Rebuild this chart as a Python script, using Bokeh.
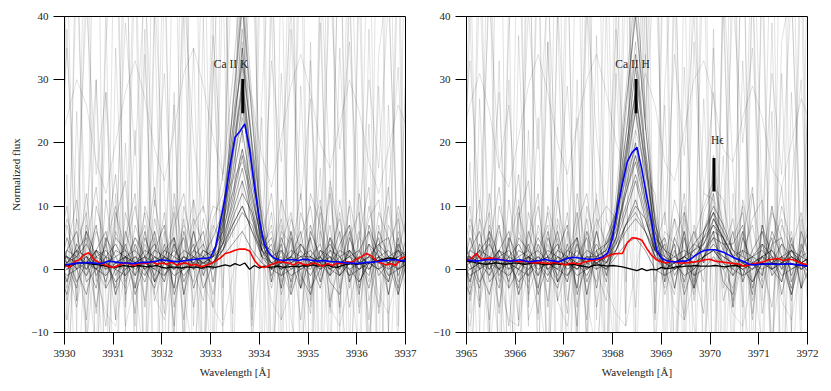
import numpy as np
from bokeh.plotting import figure
from bokeh.layouts import row
from bokeh.models import Range1d, FixedTicker
from bokeh.core.properties import value
from bokeh.embed import file_html
from bokeh.resources import INLINE

# ---------------- data ----------------
# wavelength sampling of the individual (grey) spectra
GRID_L = np.round(3929.85 + 0.2 * np.arange(37), 2)
GRID_R = np.round(3964.87 + 0.2 * np.arange(37), 2)
# sampling of the highlighted spectra
HX_L = np.round(3930.0 + 0.1 * np.arange(71), 2)
HX_R = np.round(3965.0 + 0.1 * np.arange(71), 2)

core_L = [
    [1, 2, 0, 1, 3, 1, 0, 2, 1, -1, 2, 1, 0, 2, 1,  1, 2, 4, 9, 14, 8, 3, 1, 2,  0, 1, 2, 1, -1, 1, 2, 0, 1, 3, 1, 0, 2],
    [0, 1, 3, 2, 0, -1, 1, 2, 3, 1, 0, 2, 1, -1, 1,  2, 1, 3, 7, 10, 6, 2, 0, 1,  2, 1, 0, 3, 2, 1, -1, 0, 2, 1, 2, 3, 1],
    [2, 0, 1, -1, 2, 3, 1, 0, 1, 2, -2, 1, 3, 1, 0,  1, 0, 5, 14, 22, 12, 4, 1, 0,  1, 3, 1, 0, 2, -1, 1, 2, 1, 0, 1, 2, 0],
    [1, 3, 2, 1, 0, 2, 4, 1, 2, 0, 1, 3, 2, 1, 3,  2, 3, 6, 18, 30, 17, 5, 2, 1,  3, 2, 1, 2, 4, 1, 2, 3, 0, 2, 1, 3, 2],
    [-1, 0, 1, 2, 0, 1, -2, 0, 2, 1, 0, -1, 1, 0, 2,  0, 1, 2, 4, 6, 3, 1, 0, -1,  0, 1, -1, 2, 0, 1, 0, -2, 1, 0, 2, 0, 1],
    [2, 1, 3, 0, 2, 1, 2, 3, 1, 2, 4, 1, 0, 2, 1,  3, 2, 8, 25, 42, 24, 6, 2, 3,  1, 2, 3, 1, 2, 0, 3, 1, 2, 4, 2, 1, 3],
    [0, 2, 1, 1, 3, 0, 1, 1, -1, 2, 1, 2, 0, 1, 2,  1, 1, 3, 6, 9, 7, 2, 1, 1,  2, 0, 1, 1, 3, 2, 0, 1, 2, 1, 0, 1, 2],
    [3, 1, 2, 4, 1, 0, 3, 2, 1, 3, 2, 0, 1, 3, 2,  1, 2, 7, 20, 35, 19, 4, 3, 1,  2, 4, 2, 1, 0, 2, 3, 1, 4, 2, 1, 2, 3],
    [1, -1, 0, 2, 1, 1, 0, -1, 1, 0, 2, 1, -1, 0, 1,  0, 2, 3, 8, 12, 9, 3, 0, 1,  -1, 0, 1, 2, 0, -1, 1, 0, 1, 2, -1, 0, 1],
    [2, 2, 1, 0, 3, 2, 1, 2, 0, 1, 3, 2, 1, 2, 0,  2, 1, 4, 11, 18, 10, 3, 2, 0,  1, 2, 2, 0, 1, 3, 2, 1, 0, 2, 3, 1, 2],
]
core2_L = [
    [3, -2, 4, 1, -3, 5, 2, -1, 4, 0, -3, 3, 5, -2, 2,  4, 0, 6, 12, 19, 11, 5, -1, 3,  -2, 4, 1, -3, 5, 2, -1, 3, 6, 0, -2, 4, 1],
    [-2, 5, 0, -4, 3, 6, -1, 2, -3, 5, 1, -2, 4, 0, 6,  -1, 3, 5, 10, 16, 9, 2, 4, -3,  5, -1, -4, 3, 1, 6, -2, 2, -3, 4, 5, -1, 3],
    [4, 1, -3, 6, 2, -2, 5, 3, -4, 1, 6, -1, 2, 5, -3,  2, 5, 9, 22, 33, 20, 8, -2, 5,  1, -3, 6, 2, -1, 4, 7, -2, 1, 5, -4, 3, 0],
    [0, -4, 3, 5, -1, 2, -3, 6, 1, -2, 3, 7, -4, 1, 4,  -3, 1, 4, 7, 10, 6, 3, 1, 0,  6, -3, 2, 4, -2, -4, 5, 1, -1, 6, 2, -3, 4],
    [5, 2, -2, 1, 7, -3, 0, 4, -1, 6, -2, 2, 5, -4, 3,  6, -2, 7, 15, 26, 14, 3, 5, -1,  2, 6, -3, 0, 5, -1, 3, -4, 7, 2, -2, 5, -3],
    [-3, 3, 6, -2, 0, 4, -4, 1, 5, 2, -1, 4, -3, 6, 0,  3, 2, 8, 17, 29, 16, 6, 0, 4,  -4, 1, 5, -2, 3, 0, 6, -3, 4, -1, 1, -4, 2],
]
med_L = [
    [5, -3, 8, 2, -6, 4, 10, -2, 3, 7, -5, 1, 9, -4, 6,  0, 8, 12, 20, 28, 15, 6, -3, 4,  9, -2, 5, 11, -6, 3, 7, -1, 10, 2, -4, 6, 1],
    [-4, 7, 0, 12, -2, 5, -8, 9, 3, -5, 11, 2, -3, 8, -6,  4, 10, 9, 16, 24, 18, 3, 7, -4,  2, 12, -5, 6, 0, 9, -3, 5, 13, -7, 4, 8, -2],
    [9, 1, -6, 4, 13, -1, 6, 2, -7, 10, 4, -2, 7, 12, 0,  -5, 6, 15, 30, 48, 27, 10, 2, 8,  -3, 5, 10, -1, 7, -6, 11, 3, -2, 9, 5, -4, 3],
    [2, 10, -5, 7, 1, -9, 8, 14, -3, 4, 0, 9, -6, 3, 11,  2, -4, 8, 12, 19, 13, 9, -2, 6,  4, -8, 7, 1, 12, -3, 5, 9, -5, 2, 10, 0, 6],
    [-7, 3, 11, -1, 6, 2, -4, 5, 12, -6, 8, 1, 4, -8, 7,  10, 3, 6, 22, 38, 20, 1, 9, -3,  6, 0, -7, 10, 3, 8, -2, 12, 1, -6, 7, 3, 9],
    [6, -2, 4, 9, -7, 11, 0, -3, 7, 2, 13, -5, 5, 1, -2,  8, 0, 11, 14, 17, 12, 4, 6, 0,  -4, 9, 3, -2, 14, 5, -6, 2, 8, 11, -1, 4, -5],
    [0, 8, 3, -8, 10, 4, 15, -4, 1, 9, -2, 6, -9, 10, 3,  -1, 7, 4, 26, 44, 25, 8, 0, 11,  5, -3, 12, 7, -5, 1, 10, -7, 6, 3, 13, -2, 2],
    [11, -5, 2, 6, 0, -3, 9, 3, 10, -1, 5, -7, 12, 2, 8,  4, -6, 10, 18, 27, 16, 5, 12, -2,  8, 3, -4, 9, -1, 11, 2, 6, -8, 7, 0, 10, 4],
]
wild_L = [
    [45, -20, 60, -15, 30, -25, 70, -10, 50, -30, 40, -18, 65, -12, 35, -22, 55, -8, 80, 20, 75, -14, 42, -26, 58, -16, 33, -28, 62, -11, 48, -24, 38, -19, 72, -9, 44],
    [-15, 38, -5, 52, -22, 28, -8, 66, -18, 34, -4, 57, -26, 41, -9, 63, -13, 47, -21, 36, -6, 68, -17, 31, -3, 54, -25, 39, -7, 61, -14, 45, -20, 29, -10, 59, -23],
    [12, 35, 8, 42, 15, 28, 5, 39, 18, 46, 10, 31, 3, 44, 20, 9, 37, 14, 48, 25, 50, 6, 33, 17, 41, 11, 27, 4, 45, 19, 36, 7, 30, 16, 43, 2, 38],
    [-6, -18, 8, -12, 3, -22, 12, -9, -2, -16, 6, -25, 10, -4, -14, 2, -19, 9, -7, 14, -11, 4, -21, 11, -8, -15, 5, -24, 13, -3, -17, 7, -10, 1, -20, 9, -13],
    [70, -30, 25, -12, 90, -40, 35, -5, 60, -22, 80, -35, 28, -15, 95, -28, 40, -10, 100, 30, 85, -33, 52, -8, 74, -27, 36, -19, 88, -38, 46, -6, 66, -31, 26, -14, 92],
    [18, 24, 30, 26, 17, 12, 20, 28, 33, 27, 19, 14, 22, 31, 35, 29, 21, 15, 24, 32, 27, 18, 13, 21, 29, 34, 28, 20, 16, 23, 30, 25, 17, 12, 19, 26, 22],
    [-3, -8, 2, 6, -1, -7, -9, 0, 5, 3, -4, -8, 1, 7, 4, -2, -6, -9, -1, 6, 8, 2, -5, -8, -3, 4, 7, 1, -6, -9, -2, 5, 3, -4, -7, 0, 6],
    [-35, 50, -10, 75, -28, 42, -45, 65, -20, 55, -38, 48, -15, 85, -30, 40, -25, 70, -12, 90, -18, 60, -40, 52, -22, 78, -33, 45, -16, 68, -42, 58, -27, 80, -11, 50, -36],
    [25, -8, 48, 3, -14, 36, 58, -6, 22, -19, 44, 12, -11, 53, 7, -17, 30, 61, 5, 45, -9, 27, 56, -13, 38, 2, -20, 49, 15, -7, 63, 9, -16, 34, 47, -4, 21],
    [-12, 15, -24, 8, 30, -5, -18, 20, -9, 38, -21, 4, 26, -14, 11, -27, 33, -3, 19, 50, -8, 24, -16, 7, -23, 29, -6, 16, -19, 35, -1, -13, 23, -25, 12, 32, -7],
]

core_R = [
    [1, 2, 0, 1, 3, 1, 0, 2, 1, -1, 2, 1, 0, 2,  1, 2, 4, 9, 14, 8, 3, 1, 2,  1, 0, 2, 4, 2, 1, 0,  1, 2, 0, 1, 3, 1, 0],
    [0, 1, 3, 2, 0, -1, 1, 2, 3, 1, 0, 2, 1, -1,  2, 1, 3, 7, 11, 6, 2, 0, 1,  2, 1, 2, 3, 1, 0, -1,  0, 2, 1, 2, 3, 1, 2],
    [2, 0, 1, -1, 2, 3, 1, 0, 1, 2, -2, 1, 3, 1,  0, 1, 5, 13, 20, 11, 4, 1, 0,  1, 3, 4, 7, 5, 2, 1,  2, 1, 0, 1, 2, 0, 1],
    [1, 3, 2, 1, 0, 2, 4, 1, 2, 0, 1, 3, 2, 1,  3, 4, 8, 19, 28, 17, 6, 2, 1,  2, 3, 5, 9, 6, 3, 2,  1, 2, 3, 0, 2, 1, 2],
    [-1, 0, 1, 2, 0, 1, -2, 0, 2, 1, 0, -1, 1, 0,  1, 0, 2, 4, 5, 3, 0, -1, 0,  1, -1, 0, 2, 0, 1, 0,  -2, 1, 0, 2, 0, 1, -1],
    [2, 1, 3, 0, 2, 1, 2, 3, 1, 2, 4, 1, 0, 2,  2, 3, 9, 26, 40, 23, 7, 3, 2,  3, 2, 4, 8, 5, 2, 3,  2, 4, 2, 1, 3, 2, 1],
    [0, 2, 1, 1, 3, 0, 1, 1, -1, 2, 1, 2, 0, 1,  1, 2, 3, 6, 8, 6, 2, 1, 1,  2, 1, 2, 3, 2, 1, 0,  1, 0, 1, 2, 1, 0, 1],
    [3, 1, 2, 4, 1, 0, 3, 2, 1, 3, 2, 0, 1, 3,  2, 3, 7, 18, 32, 18, 5, 3, 1,  2, 4, 6, 10, 7, 3, 1,  2, 3, 1, 4, 2, 1, 2],
    [1, -1, 0, 2, 1, 1, 0, -1, 1, 0, 2, 1, -1, 0,  1, 0, 3, 7, 10, 8, 3, 0, 1,  -1, 0, 2, 3, 1, -1, 1,  0, 1, 2, -1, 0, 1, 0],
    [2, 2, 1, 0, 3, 2, 1, 2, 0, 1, 3, 2, 1, 2,  1, 2, 5, 12, 17, 10, 3, 2, 0,  1, 2, 3, 5, 4, 2, 1,  0, 2, 3, 1, 2, 1, 2],
]
core2_R = [
    [3, -2, 4, 1, -3, 5, 2, -1, 4, 0, -3, 3, 5, -2,  2, 4, 6, 12, 18, 11, 5, -1, 3,  -2, 4, 3, 6, 5, 2, -1,  3, 6, 0, -2, 4, 1, -3],
    [-2, 5, 0, -4, 3, 6, -1, 2, -3, 5, 1, -2, 4, 0,  6, -1, 5, 10, 15, 9, 2, 4, -3,  5, -1, 2, 5, 1, 6, -2,  2, -3, 4, 5, -1, 3, 0],
    [4, 1, -3, 6, 2, -2, 5, 3, -4, 1, 6, -1, 2, 5,  -3, 5, 9, 21, 34, 19, 8, -2, 5,  1, -3, 6, 9, 4, 4, 7,  -2, 1, 5, -4, 3, 0, 2],
    [0, -4, 3, 5, -1, 2, -3, 6, 1, -2, 3, 7, -4, 1,  4, 1, 4, 7, 9, 6, 3, 1, 0,  6, -3, 2, 6, -2, -4, 5,  1, -1, 6, 2, -3, 4, 0],
    [5, 2, -2, 1, 7, -3, 0, 4, -1, 6, -2, 2, 5, -4,  3, -2, 7, 15, 25, 14, 3, 5, -1,  2, 6, 1, 8, 5, -1, 3,  -4, 7, 2, -2, 5, -3, 1],
    [-3, 3, 6, -2, 0, 4, -4, 1, 5, 2, -1, 4, -3, 6,  0, 2, 8, 17, 28, 16, 6, 0, 4,  -4, 1, 5, 7, 3, 0, 6,  -3, 4, -1, 1, -4, 2, 3],
]
med_R = [
    [5, -3, 8, 2, -6, 4, 10, -2, 3, 7, -5, 1, 9, -4,  6, 0, 9, 14, 22, 16, 4, -3, 5,  9, -2, 6, 12, 4, -5, 3,  7, -1, 10, 2, -4, 6, 1],
    [-4, 7, 0, 12, -2, 5, -8, 9, 3, -5, 11, 2, -3, 8,  -6, 4, 10, 18, 26, 17, 8, -4, 2,  12, -5, 6, 9, 0, -3, 5,  13, -7, 4, 8, -2, 3, 9],
    [9, 1, -6, 4, 13, -1, 6, 2, -7, 10, 4, -2, 7, 12,  0, -5, 12, 28, 45, 26, 9, 2, 8,  -3, 5, 10, 14, 7, -6, 11,  3, -2, 9, 5, -4, 3, 7],
    [2, 10, -5, 7, 1, -9, 8, 14, -3, 4, 0, 9, -6, 3,  11, 2, 6, 13, 18, 12, -2, 6, 4,  -8, 7, 1, 12, -3, 5, 9,  -5, 2, 10, 0, 6, -3, 4],
    [-7, 3, 11, -1, 6, 2, -4, 5, 12, -6, 8, 1, 4, -8,  7, 10, 8, 21, 36, 19, 3, 9, -3,  6, 0, -7, 16, 3, 8, -2,  12, 1, -6, 7, 3, 9, -1],
    [6, -2, 4, 9, -7, 11, 0, -3, 7, 2, 13, -5, 5, 1,  -2, 8, 4, 15, 19, 13, 6, 0, -4,  9, 3, -2, 18, 5, -6, 2,  8, 11, -1, 4, -5, 6, 2],
    [0, 8, 3, -8, 10, 4, 15, -4, 1, 9, -2, 6, -9, 10,  3, -1, 9, 24, 42, 23, 8, 0, 11,  5, -3, 12, 11, -5, 1, 10,  -7, 6, 3, 13, -2, 2, 8],
    [11, -5, 2, 6, 0, -3, 9, 3, 10, -1, 5, -7, 12, 2,  8, 4, 7, 17, 25, 15, 12, -2, 8,  3, -4, 9, 13, 11, 2, 6,  -8, 7, 0, 10, 4, -3, 5],
]
wild_R = [
    [48, -18, 62, -12, 33, -24, 68, -9, 52, -28, 41, -16, 63, -13, 37, -21, 57, -7, 78, 22, 73, -15, 44, -25, 56, -17, 35, -27, 60, -10, 47, -23, 39, -20, 70, -8, 45],
    [-14, 40, -6, 50, -20, 30, -9, 64, -17, 36, -5, 55, -24, 43, -8, 61, -12, 49, -22, 34, -7, 66, -18, 32, -2, 52, -26, 41, -6, 59, -15, 46, -19, 31, -11, 57, -21],
    [14, 33, 9, 44, 16, 26, 6, 41, 19, 45, 11, 29, 4, 42, 21, 8, 38, 13, 47, 24, 49, 7, 34, 18, 40, 12, 28, 5, 43, 20, 35, 8, 31, 15, 44, 3, 37],
    [-7, -17, 9, -13, 2, -21, 11, -8, -3, -15, 7, -24, 9, -5, -13, 3, -18, 10, -6, 13, -12, 5, -20, 10, -9, -14, 6, -23, 12, -4, -16, 8, -11, 2, -19, 8, -12],
    [72, -28, 27, -11, 88, -38, 37, -6, 58, -21, 82, -33, 30, -14, 93, -26, 42, -9, 98, 32, 83, -31, 54, -7, 72, -25, 38, -18, 86, -36, 48, -5, 64, -29, 28, -13, 90],
    [20, 26, 31, 25, 16, 13, 21, 29, 34, 28, 20, 15, 23, 30, 34, 28, 20, 16, 25, 31, 26, 17, 14, 22, 30, 33, 27, 19, 17, 24, 29, 24, 16, 13, 20, 27, 23],
    [-4, -9, 1, 5, -2, -8, -9, 1, 6, 2, -5, -9, 2, 6, 3, -3, -7, -9, 0, 7, 7, 1, -6, -8, -2, 5, 6, 0, -7, -9, -1, 4, 2, -5, -8, 1, 5],
    [-33, 52, -11, 73, -27, 44, -43, 67, -19, 53, -37, 50, -14, 83, -29, 42, -24, 72, -11, 88, -17, 62, -39, 50, -21, 76, -32, 47, -15, 66, -41, 56, -26, 78, -10, 48, -35],
    [27, -7, 46, 4, -13, 38, 56, -5, 24, -18, 42, 13, -10, 51, 8, -16, 32, 59, 6, 43, -8, 29, 54, -12, 36, 3, -19, 47, 16, -6, 61, 10, -15, 36, 45, -3, 23],
    [-11, 17, -23, 9, 28, -4, -17, 22, -8, 36, -20, 5, 24, -13, 12, -26, 31, -2, 21, 48, -7, 26, -15, 8, -22, 27, -5, 18, -18, 33, 0, -12, 25, -24, 13, 30, -6],
]

blue_L = [0.7, 0.8, 0.9, 1.0, 1.0, 1.1, 1.0, 0.9, 1.0, 1.3,
          1.2, 1.1, 1.0, 1.0, 0.9, 1.0, 1.1, 1.1, 1.2, 1.3,
          1.5, 1.4, 1.3, 1.2, 1.3, 1.4, 1.5, 1.6, 1.7, 1.7,
          1.9, 3.5, 7.5, 11.5, 16.5, 20.9, 21.8, 23.0, 19.0, 13.0,
          7.8, 4.0, 2.5, 1.8, 1.5, 1.4, 1.5, 1.5, 1.4, 1.6,
          1.5, 1.4, 1.3, 1.4, 1.3, 1.2, 1.2, 1.1, 1.0, 1.0,
          0.9, 1.0, 1.1, 1.1, 1.2, 1.3, 1.4, 1.5, 1.5, 1.4,
          1.3]
red_L = [0.8, 0.3, 1.2, 1.5, 2.3, 2.6, 1.6, 1.1, 0.8, 0.5,
         0.3, 0.6, 0.9, 1.0, 0.6, 0.8, 1.0, 0.9, 1.2, 0.8,
         1.0, 0.8, 1.1, 0.7, 0.9, 1.0, 0.6, 0.8, 0.4, 0.6,
         0.9, 1.3, 1.8, 2.5, 2.7, 3.0, 3.2, 3.2, 2.9, 1.4,
         0.5, 0.3, 0.6, 0.9, 1.2, 1.1, 1.0, 0.7, 1.1, 0.8,
         0.7, 1.0, 0.8, 0.5, 0.9, 0.6, 1.0, 0.9, 1.2, 1.1,
         1.6, 2.0, 2.5, 2.1, 1.4, 1.0, 0.7, 0.9, 0.6, 1.7,
         2.0]
black_L = [0.5, 0.6, 0.8, 1.0, 1.1, 0.9, 0.8, 0.7, 0.6, 0.4,
           0.3, 0.4, 0.6, 0.5, 0.4, 0.6, 0.5, 0.4, 0.5, 0.6,
           0.3, 0.2, 0.4, 0.3, 0.2, 0.4, 0.3, 0.4, 0.2, 0.4,
           0.4, 0.3, 0.5, 0.7, 0.5, 0.9, 0.6, 1.0, 0.0, 0.6,
           0.2, 0.5, 0.3, 0.4, 0.5, 0.3, 0.4, 0.5, 0.4, 0.6,
           0.5, 0.7, 0.5, 0.6, 0.7, 0.4, 0.3, 0.6, 0.8, 0.9,
           0.8, 0.9, 1.0, 1.1, 1.3, 1.5, 1.7, 1.8, 1.6, 1.3,
           1.2]

blue_R = [1.5, 1.4, 1.3, 1.4, 1.5, 1.5, 1.6, 1.5, 1.4, 1.3,
          1.4, 1.5, 1.3, 1.2, 1.3, 1.4, 1.6, 1.4, 1.3, 1.2,
          1.5, 1.8, 1.9, 1.8, 1.7, 1.6, 1.6, 1.7, 2.0, 2.6,
          5.0, 9.8, 13.5, 17.0, 18.5, 19.3, 15.8, 11.5, 7.5, 3.0,
          1.8, 1.4, 1.2, 1.2, 1.3, 1.3, 1.6, 2.2, 2.7, 3.0,
          3.1, 3.1, 2.9, 2.6, 2.2, 1.8, 1.5, 1.2, 0.8, 0.7,
          0.8, 0.8, 0.9, 0.8, 0.8, 0.8, 0.9, 0.8, 0.7, 0.6,
          0.5]
red_R = [1.4, 1.7, 2.5, 1.6, 1.7, 1.8, 1.7, 1.5, 1.4, 1.3,
         1.3, 1.2, 1.3, 1.1, 1.0, 1.1, 1.0, 0.9, 1.1, 1.0,
         0.7, 0.9, 1.0, 0.8, 1.1, 1.3, 1.4, 1.5, 1.8, 2.1,
         2.4, 2.5, 2.5, 4.2, 5.0, 4.9, 4.6, 3.3, 2.2, 1.5,
         1.2, 1.0, 1.3, 1.1, 1.0, 1.0, 1.1, 1.2, 1.3, 1.5,
         1.6, 1.3, 1.2, 1.1, 1.0, 0.9, 0.8, 0.5, 0.7, 0.9,
         1.0, 1.2, 1.5, 1.6, 1.7, 1.4, 1.6, 1.5, 1.2, 0.9,
         0.7]
black_R = [1.3, 1.2, 1.0, 0.9, 0.8, 0.9, 1.0, 0.9, 0.8, 0.9,
           1.0, 0.9, 0.8, 0.9, 1.0, 0.9, 0.7, 0.8, 0.9, 0.8,
           0.8, 0.7, 0.8, 0.6, 0.5, 0.3, 0.6, 0.7, 0.6, 0.5,
           0.6, 0.5, 0.4, 0.2, 0.0, -0.2, 0.1, -0.2, 0.0, -0.1,
           0.3, 0.1, 0.2, 0.4, 0.4, 0.5, 0.5, 0.6, 0.5, 0.5,
           0.5, 0.6, 0.5, 0.4, 0.5, 0.6, 0.5, 0.6, 0.7, 0.8,
           0.8, 0.9, 0.8, 0.9, 0.8, 0.8, 0.9, 0.8, 0.7, 0.6,
           0.6]

# line identifications: name, text x, text y, marker x, marker bottom, marker top
lines_L = dict(name=["Ca II K"], tx=[3933.42], ty=[32.5], mx=[3933.66], y0=[24.7], y1=[30.1])
lines_R = dict(name=["Ca II H", "H\u03f5"], tx=[3968.41, 3970.15], ty=[32.5, 20.5],
               mx=[3968.48, 3970.08], y0=[24.7, 12.3], y1=[30.1, 17.6])

XTICKS_L = [3930, 3931, 3932, 3933, 3934, 3935, 3936, 3937]
XTICKS_R = [3965, 3966, 3967, 3968, 3969, 3970, 3971, 3972]
YTICKS = [-10, 0, 10, 20, 30, 40]

FONT = "'Liberation Serif', 'DejaVu Serif', serif"


def fit(x, v):
    n = min(len(x), len(v))
    return list(x[:n]), list(v[:n])


def panel(xr, xticks, grid, core, core2, med, wild, hx, blue, red, black, lines, ylabel, bl, br):
    p = figure(output_backend="svg", toolbar_location=None,
               x_range=Range1d(*xr), y_range=Range1d(-10, 40),
               frame_width=341, frame_height=316,
               min_border_left=bl, min_border_right=br,
               min_border_top=16, min_border_bottom=55)
    p.grid.visible = False
    p.outline_line_color = "black"
    p.outline_line_width = 1
    p.outline_line_alpha = 1
    p.background_fill_color = "white"
    p.border_fill_color = "white"

    for group, alpha, lw in ((wild, 0.2, 0.6), (med, 0.3, 0.6),
                             (core2, 0.42, 0.8), (core, 0.48, 0.8)):
        xs, ys = [], []
        for v in group:
            a, b = fit(grid, v)
            xs.append(a)
            ys.append(b)
        p.multi_line(xs, ys, line_color="black", line_alpha=alpha, line_width=lw)

    p.line(*fit(hx, black), line_color="black", line_width=1.3)
    p.line(*fit(hx, red), line_color="#ff0000", line_width=1.6)
    p.line(*fit(hx, blue), line_color="#0000ff", line_width=1.6)

    p.segment(x0=lines["mx"], y0=lines["y0"], x1=lines["mx"], y1=lines["y1"],
              line_color="black", line_width=3)
    p.text(x=lines["tx"], y=lines["ty"], text=lines["name"],
           text_font=value(FONT), text_font_size="11.5px", text_color="#222222",
           text_align="center", text_baseline="middle")

    p.xaxis.ticker = FixedTicker(ticks=xticks, minor_ticks=[])
    p.yaxis.ticker = FixedTicker(ticks=YTICKS, minor_ticks=[])
    p.yaxis.major_label_overrides = {-10: "\u221210"}
    p.xaxis.axis_label = "Wavelength [\u00c5]"
    if ylabel:
        p.yaxis.axis_label = ylabel
    for ax in (p.xaxis[0], p.yaxis[0]):
        ax.major_tick_in = 0
        ax.minor_tick_line_color = None
        ax.axis_line_color = "black"
        ax.major_tick_line_color = "black"
        ax.major_label_text_font = FONT
        ax.major_label_text_font_size = "11px"
        ax.major_label_text_color = "#222222"
        ax.major_label_standoff = 5
        ax.axis_label_text_font = FONT
        ax.axis_label_text_font_size = "11px"
        ax.axis_label_text_font_style = "normal"
        ax.axis_label_text_color = "#222222"
        ax.axis_label_standoff = 6
    p.xaxis.major_tick_out = 12
    p.yaxis.major_tick_out = 11
    return p


p1 = panel((3930, 3937), XTICKS_L, GRID_L, core_L, core2_L, med_L, wild_L, HX_L,
           blue_L, red_L, black_L, lines_L, "Normalized flux", 64, 14)
p2 = panel((3965, 3972), XTICKS_R, GRID_R, core_R, core2_R, med_R, wild_R, HX_R,
           blue_R, red_R, black_R, lines_R, None, 47, 16)

layout = row(p1, p2)
open("out.html", "w").write(file_html(layout, INLINE))
